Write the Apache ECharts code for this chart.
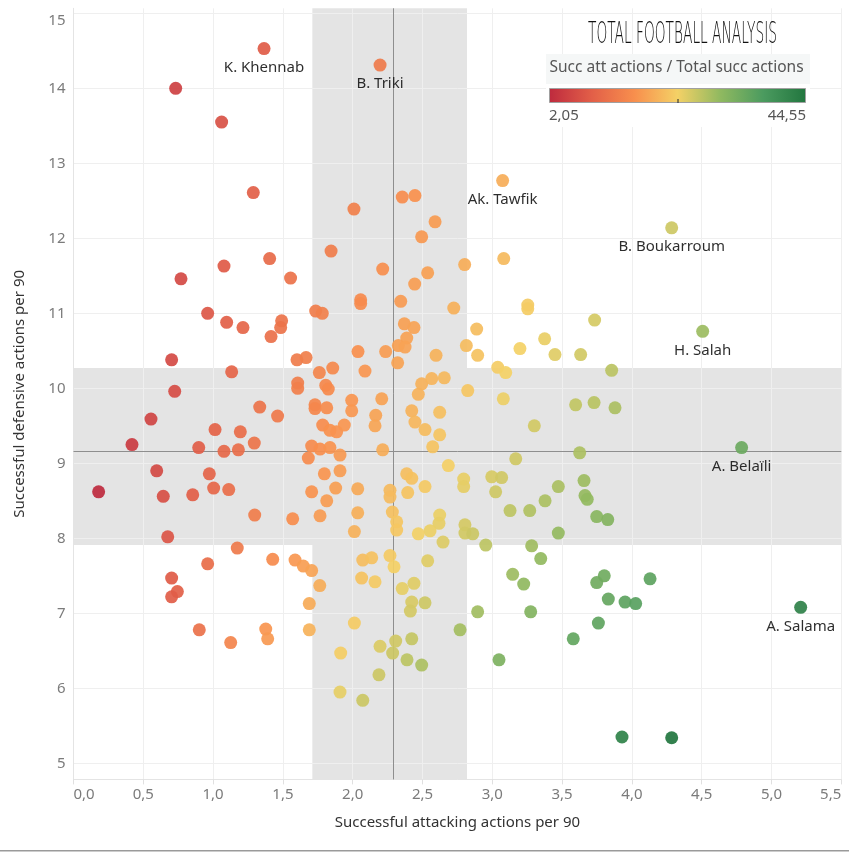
<!DOCTYPE html>
<html><head><meta charset="utf-8">
<script src="https://cdn.jsdelivr.net/npm/echarts@6/dist/echarts.min.js"></script>
<style>html,body{margin:0;padding:0;background:#fff}#c{width:849px;height:853px}</style>
</head><body><div id="c"></div>
<script>
// ---- data ----
const attX = [0.732,1.061,1.288,2.355,2.446,0.770,1.078,1.405,1.555,0.961,1.097,1.214,1.415,1.491,1.484,0.703,1.133,0.725,
2.009,2.590,2.494,1.845,2.215,2.802,3.082,2.537,2.444,2.057,2.057,2.344,2.724,3.254,3.254,1.735,1.782,2.888,2.370,2.439,2.387,2.327,2.375,2.814,2.895,2.597,3.198,3.375,3.449,3.039,3.096,2.038,2.236,2.322,1.601,1.666,1.761,1.857,2.088,1.606,1.606,1.807,1.825,2.494,2.566,2.656,2.824,
3.733,3.633,3.855,
0.555,0.419,0.180,0.596,0.643,0.675,0.854,0.897,0.973,1.014,1.004,1.078,1.112,1.181,1.195,1.295,1.334,1.462,1.298,1.570,1.173,0.961,1.427,0.703,0.744,0.703,0.901,1.126,1.377,1.391,
1.993,2.208,2.470,3.079,1.730,1.730,1.814,1.993,2.423,2.623,2.165,2.160,1.785,1.837,1.885,1.940,2.446,2.518,2.623,2.573,1.706,1.766,1.837,1.909,1.682,2.215,3.301,3.168,2.685,1.797,1.909,2.387,2.423,2.795,2.795,2.996,3.067,3.024,1.706,1.878,2.036,2.267,2.267,2.394,2.518,1.814,3.473,3.378,3.127,3.268,1.766,2.036,2.284,2.315,2.315,2.623,2.618,2.554,2.470,2.012,2.804,2.804,2.860,2.647,2.953,3.473,3.282,3.347,3.146,3.225,1.587,1.646,1.706,1.764,2.072,2.136,2.267,2.296,2.537,2.064,2.160,2.355,2.439,
3.597,3.729,3.879,3.626,3.657,3.664,3.680,3.748,3.827,3.802,3.748,4.130,3.831,3.951,4.027,3.760,3.580,3.929,4.285,
1.689,1.689,2.423,2.518,2.413,2.895,3.275,2.012,2.769,2.308,2.423,2.196,1.914,2.286,2.389,2.494,3.048,2.188,1.909,2.072];
const defY = [14.00,13.55,12.61,12.55,12.57,11.46,11.63,11.73,11.47,11.00,10.88,10.81,10.69,10.90,10.81,10.38,10.22,9.96,
12.39,12.22,12.02,11.83,11.59,11.65,11.73,11.54,11.39,11.18,11.13,11.16,11.07,11.11,11.06,11.03,11.00,10.79,10.86,10.81,10.67,10.57,10.55,10.57,10.44,10.44,10.53,10.66,10.45,10.28,10.21,10.49,10.49,10.34,10.38,10.41,10.21,10.27,10.23,10.07,10.00,10.04,9.99,10.06,10.13,10.14,9.97,
10.91,10.45,10.24,
9.59,9.25,8.62,8.90,8.56,8.02,8.58,9.21,8.86,9.45,8.67,9.16,8.65,9.18,9.42,9.27,9.75,9.63,8.31,8.26,7.87,7.66,7.72,7.47,7.29,7.22,6.78,6.61,6.79,6.66,
9.84,9.86,9.92,9.86,9.78,9.73,9.74,9.70,9.70,9.68,9.64,9.50,9.51,9.44,9.42,9.51,9.55,9.45,9.38,9.22,9.23,9.19,9.21,9.11,9.07,9.18,9.50,9.06,8.97,8.86,8.90,8.86,8.80,8.79,8.69,8.82,8.81,8.62,8.62,8.67,8.66,8.64,8.55,8.61,8.69,8.50,8.69,8.50,8.37,8.37,8.30,8.34,8.35,8.22,8.11,8.31,8.20,8.10,8.06,8.09,8.18,8.07,8.06,7.95,7.91,8.07,7.90,7.73,7.52,7.39,7.71,7.63,7.57,7.37,7.71,7.74,7.77,7.62,7.70,7.47,7.42,7.33,7.40,
9.78,9.81,9.74,9.14,8.77,8.57,8.52,8.29,8.25,7.50,7.41,7.46,7.19,7.15,7.13,6.87,6.66,5.35,5.34,
7.13,6.78,7.15,7.14,7.03,7.02,7.02,6.87,6.78,6.63,6.66,6.56,6.47,6.47,6.38,6.31,6.38,6.18,5.95,5.84];
const namedPlayers = ['K. Khennab','B. Triki','Ak. Tawfik','B. Boukarroum','H. Salah','A. Belaïli','A. Salama'];
const namedX = [1.365,2.196,3.074,4.285,4.507,4.786,5.209];
const namedY = [14.53,14.31,12.77,12.14,10.76,9.21,7.08];
const xTicks = [0,0.5,1,1.5,2,2.5,3,3.5,4,4.5,5,5.5];
const yTicks = [5,6,7,8,9,10,11,12,13,14,15];
const meanX = 2.294, meanY = 9.16;
const bandX = [1.711, 2.819];
const bandY = [7.911, 10.271];
const ratioRange = [2.05, 44.55];
const palette = ['#be2a3e','#e25f48','#f88f4d','#f4d166','#90b960','#4b9b5f','#22763f'];
const legendTitle = 'Succ att actions / Total succ actions';
const logoText = 'TOTAL FOOTBALL ANALYSIS';

// ---- build ----
const FONT = '"Noto Sans", "Open Sans", sans-serif';
const ratio = (x, y) => x / (x + y) * 100;
const pts = attX.map((x, i) => ({ value: [x, defY[i], ratio(x, defY[i])] }));
namedPlayers.forEach((n, i) => {
  pts.push({
    name: n,
    value: [namedX[i], namedY[i], ratio(namedX[i], namedY[i])],
    label: { show: true, position: 'bottom', distance: 5, formatter: '{b}', color: '#1a1a1a', fontSize: 15, fontFamily: FONT }
  });
});
const comma = (v, d) => v.toFixed(d).replace('.', ',');

// logo width fitting
const cv = document.createElement('canvas').getContext('2d');
const logoFont = '300 31px "DejaVu Sans", sans-serif';
cv.font = logoFont;
const logoScale = 189 / cv.measureText(logoText).width;

const chart = echarts.init(document.getElementById('c'), null, { renderer: 'canvas' });
chart.setOption({
  animation: false,
  backgroundColor: '#ffffff',
  grid: { left: 73.5, right: 7.7, top: 8.3, bottom: 73.6, containLabel: false },
  xAxis: {
    type: 'value', min: xTicks[0], max: xTicks[xTicks.length - 1], interval: 0.5, z: 2,
    name: 'Successful attacking actions per 90', nameLocation: 'middle', nameGap: 36,
    nameTextStyle: { color: '#333', fontSize: 15, fontFamily: FONT },
    axisLine: { show: true, lineStyle: { color: '#e4e4e4' } },
    axisTick: { show: true, length: 5, lineStyle: { color: '#e0e0e0' } },
    splitLine: { show: true, lineStyle: { color: '#efefef', width: 1 } },
    axisLabel: { formatter: v => comma(v, 1), color: '#7b7b7b', fontSize: 15, fontFamily: FONT, margin: 8,
      alignMinLabel: 'left', alignMaxLabel: 'right' }
  },
  yAxis: {
    type: 'value', min: 4.785, max: 15.067, z: 2,
    name: 'Successful defensive actions per 90', nameLocation: 'middle', nameGap: 46,
    nameTextStyle: { color: '#333', fontSize: 15, fontFamily: FONT },
    axisLine: { show: true, lineStyle: { color: '#e4e4e4' } },
    axisTick: { show: false, customValues: yTicks },
    splitLine: { show: true, lineStyle: { color: '#efefef', width: 1 } },
    axisLabel: { customValues: yTicks, formatter: v => String(Math.round(v)), color: '#7b7b7b', fontSize: 15, fontFamily: FONT, margin: 8,
      verticalAlignMaxLabel: 'top' }
  },
  visualMap: {
    show: false, type: 'continuous', dimension: 2, seriesIndex: 1,
    min: ratioRange[0], max: ratioRange[1], inRange: { color: palette }
  },
  series: [
    {
      type: 'scatter', data: [], z: 1, silent: true,
      markArea: {
        silent: true, z: 1,
        itemStyle: { color: '#e4e4e4', borderWidth: 0 },
        label: { show: false },
        data: [
          [{ xAxis: bandX[0] }, { xAxis: bandX[1] }],
          [{ yAxis: bandY[0] }, { yAxis: bandY[1] }]
        ]
      },
      markLine: {
        silent: true, z: 3, symbol: 'none', animation: false,
        lineStyle: { color: '#8e8e8e', width: 1, type: 'solid' },
        label: { show: false },
        data: [{ xAxis: meanX }, { yAxis: meanY }]
      }
    },
    {
      type: 'scatter', z: 4, data: pts, symbolSize: 13,
      itemStyle: { opacity: 0.92 },
      emphasis: { disabled: true },
      labelLayout: { hideOverlap: false }
    }
  ],
  graphic: [
    { type: 'rect', z: 10, shape: { x: 546, y: 54, width: 264, height: 30 }, style: { fill: '#f5f7f7' } },
    { type: 'rect', z: 10, shape: { x: 546, y: 84, width: 264, height: 43 }, style: { fill: '#ffffff' } },
    { type: 'text', z: 11, x: 676.5, y: 68, style: { text: legendTitle, align: 'center', verticalAlign: 'middle', fontSize: 15.5, fontFamily: FONT, fill: '#555' } },
    { type: 'rect', z: 11, shape: { x: 549.5, y: 88.5, width: 256, height: 14 },
      style: { fill: new echarts.graphic.LinearGradient(0, 0, 1, 0, palette.map((c, i) => ({ offset: i / (palette.length - 1), color: c }))), stroke: '#a0a0a0', lineWidth: 1 } },
    { type: 'line', z: 12, shape: { x1: 678, y1: 99, x2: 678, y2: 103 }, style: { stroke: '#222', lineWidth: 1 } },
    { type: 'text', z: 11, x: 549, y: 116, style: { text: comma(ratioRange[0], 2), align: 'left', verticalAlign: 'middle', fontSize: 15, fontFamily: FONT, fill: '#555' } },
    { type: 'text', z: 11, x: 806, y: 116, style: { text: comma(ratioRange[1], 2), align: 'right', verticalAlign: 'middle', fontSize: 15, fontFamily: FONT, fill: '#555' } },
    { type: 'text', z: 11, x: 588, y: 35, scaleX: logoScale, style: { text: logoText, align: 'left', verticalAlign: 'middle', font: logoFont, fill: '#111' } },
    { type: 'rect', z: 11, shape: { x: 0, y: 850, width: 849, height: 1.5 }, style: { fill: '#9a9a9a' } }
  ]
});
</script></body></html>
